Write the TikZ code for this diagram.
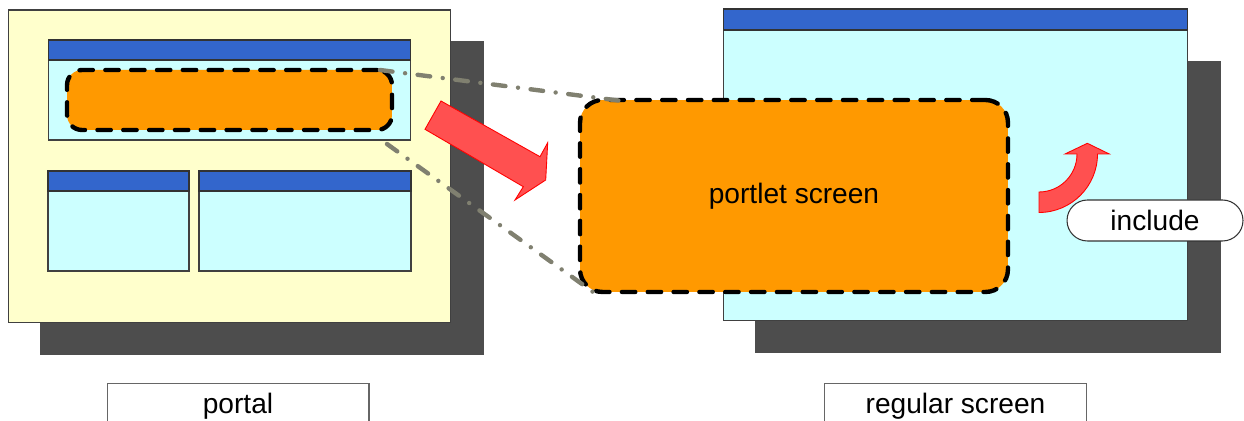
\documentclass[tikz,border=0pt]{standalone}
\usepackage{fontspec}
\setmainfont{Liberation Sans}
\usetikzlibrary{positioning}
\definecolor{paneyellow}{HTML}{FFFFCC}
\definecolor{panecyan}{HTML}{CCFFFF}
\definecolor{barblue}{HTML}{3366CC}
\definecolor{shadowgray}{HTML}{4D4D4D}
\definecolor{portletorange}{HTML}{FF9900}
\definecolor{arrowred}{HTML}{FF5050}
\definecolor{linkgray}{HTML}{808070}

\begin{document}
\begin{tikzpicture}[x=0.02cm,y=-0.02cm,
  shadow/.style={fill=shadowgray,inner sep=0pt,outer sep=0pt},
  panel/.style={draw=black!75,line width=0.6pt,inner sep=0pt,outer sep=0pt},
  titlebar/.style={fill=barblue,draw=black!80,line width=0.6pt},
  portlet/.style={fill=portletorange,draw=black,line width=2.5pt,line cap=round,
    dash pattern=on 7.6pt off 7.1pt,inner sep=0pt,outer sep=0pt},
  link/.style={draw=linkgray,line width=2.5pt,line cap=round,
    dash pattern=on 7.2pt off 7.2pt on 0pt off 7.2pt},
  redarrow/.style={fill=arrowred,draw=red,line width=0.5pt},
  label/.style={font=\fontsize{16}{19}\selectfont},
  caption/.style={draw=black!60,line width=0.6pt,fill=white,minimum width=5.24cm,
    minimum height=0.9cm,anchor=north,label}]

\clip (0,0) rectangle (1244,421);

% portal
\node[shadow,minimum width=8.88cm,minimum height=6.28cm] (portalshadow) at (262,198) {};
\node[panel,fill=paneyellow,minimum width=8.86cm,minimum height=6.26cm] (portal) at (229.5,166.5) {};
\node[panel,fill=panecyan,minimum width=7.26cm,minimum height=2cm] (win1) at (229.5,90) {};
\filldraw[titlebar] (win1.north west) rectangle ([yshift=-0.4cm]win1.north east);
\node[panel,fill=panecyan,minimum width=2.82cm,minimum height=2cm] (win2) at (118.5,221) {};
\filldraw[titlebar] (win2.north west) rectangle ([yshift=-0.4cm]win2.north east);
\node[panel,fill=panecyan,minimum width=4.24cm,minimum height=2cm] (win3) at (305,221) {};
\filldraw[titlebar] (win3.north west) rectangle ([yshift=-0.4cm]win3.north east);
\node[portlet,rounded corners=0.3cm,minimum width=6.5cm,minimum height=1.2cm] (small) at (229.5,100) {};

% regular screen
\node[shadow,minimum width=9.32cm,minimum height=5.84cm] (screenshadow) at (988,207) {};
\node[panel,fill=panecyan,minimum width=9.3cm,minimum height=6.24cm] (screen) at (955.5,165) {};
\filldraw[titlebar] (screen.north west) rectangle ([yshift=-0.42cm]screen.north east);
\node[portlet,rounded corners=0.45cm,minimum width=8.56cm,minimum height=3.84cm,label] (big) at (794,196) {portlet screen};

% zoom lines
\draw[link] ([xshift=-0.24cm]small.north east) -- ([xshift=1cm,yshift=-0.04cm]big.north west);
\draw[link] ([xshift=-0.1cm,yshift=-0.28cm]small.south east) -- ([xshift=0.26cm]big.south west);

% arrows
\filldraw[redarrow] (425,129.3) -- (441,101) -- (540,156.7) -- (547.7,142.7)
  -- (545.7,180) -- (515,200) -- (523.3,186.7) -- cycle;
\filldraw[redarrow] (1039,212.5) arc (90:0:58.5) -- (1109.3,154) -- (1087.3,143.3)
  -- (1065,154) -- (1077,154) arc (0:90:38) -- cycle;

\node[draw=black!80,line width=0.6pt,fill=white,rounded corners=0.41cm,
  minimum width=3.52cm,minimum height=0.82cm,label] (include) at (1155,220.5) {include};

% captions
\node[caption] (portallabel) at (238,383) {portal};
\node[caption] (screenlabel) at (955.5,383) {regular screen};
\end{tikzpicture}
\end{document}
